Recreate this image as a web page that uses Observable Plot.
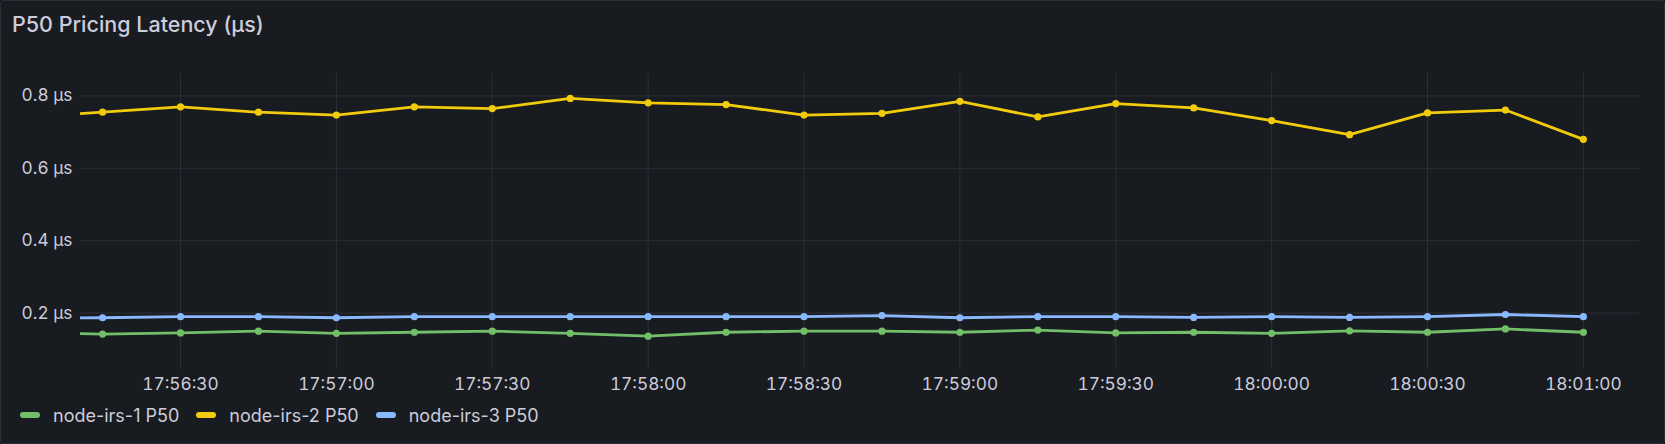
<!DOCTYPE html>
<html>
<head>
<meta charset="utf-8">
<script src="https://cdn.jsdelivr.net/npm/d3@7"></script>
<script src="https://cdn.jsdelivr.net/npm/@observablehq/plot@0.6"></script>
<style>
  html, body { margin: 0; padding: 0; background: #111217; }
  #panel {
    position: relative; width: 1665px; height: 444px; box-sizing: border-box;
    background: #181b1f; border: 1px solid #2c2f36; border-radius: 3px;
    font-family: Inter, "Noto Sans", sans-serif; color: #ccccdc; overflow: hidden;
  }
  #title { height: 47px; line-height: 47px; padding-left: 11px; font-size: 21.5px; font-weight: 500; color: #ccccdc; white-space: nowrap; }
  #chart svg { display: block; }
  #legend { height: 30px; display: flex; align-items: center; padding-left: 19px; font-size: 18px; color: #ccccdc; }
  .item { display: flex; align-items: center; margin-right: 17px; }
  .swatch { width: 20px; height: 6px; border-radius: 3px; margin-right: 13px; }
</style>
</head>
<body>
<div id="panel">
  <div id="title">P50 Pricing Latency (µs)</div>
  <div id="chart"></div>
  <div id="legend"></div>
</div>
<script>
// Data: sample times (every 15 s) and P50 latency values in µs
const times = [
  "17:56:00","17:56:15","17:56:30","17:56:45","17:57:00","17:57:15","17:57:30","17:57:45",
  "17:58:00","17:58:15","17:58:30","17:58:45","17:59:00","17:59:15","17:59:30","17:59:45",
  "18:00:00","18:00:15","18:00:30","18:00:45","18:01:00"
];
const seriesNames = ["node-irs-1 P50", "node-irs-2 P50", "node-irs-3 P50"];
const seriesColors = ["#73bf69", "#f2cc0c", "#8ab8ff"];
const node1 = [0.145,0.142,0.145,0.150,0.144,0.147,0.150,0.144,0.136,0.147,0.150,0.150,0.147,0.153,0.145,0.147,0.144,0.151,0.147,0.156,0.147];
const node2 = [0.741,0.755,0.770,0.755,0.747,0.770,0.765,0.793,0.781,0.776,0.747,0.752,0.785,0.742,0.779,0.767,0.732,0.693,0.753,0.761,0.680];
const node3 = [0.185,0.187,0.190,0.190,0.187,0.190,0.190,0.190,0.190,0.190,0.190,0.193,0.187,0.190,0.190,0.188,0.190,0.188,0.190,0.196,0.190];
const yTicks = [0.2, 0.4, 0.6, 0.8];
const xTickLabels = ["17:56:30","17:57:00","17:57:30","17:58:00","17:58:30","17:59:00","17:59:30","18:00:00","18:00:30","18:01:00"];
const xDomainLabels = ["17:56:10.75", "18:01:10.8"];
const yDomain = [0.044, 0.862];

const toDate = s => {
  const [h, m, sec] = s.split(":").map(Number);
  return new Date(Date.UTC(2024, 0, 1, h, m, 0) + sec * 1000);
};
const valuesBySeries = [node1, node2, node3];
const data = [];
seriesNames.forEach((name, i) => {
  times.forEach((t, j) => data.push({ series: name, time: toDate(t), value: valuesBySeries[i][j] }));
});
const xTicks = xTickLabels.map(toDate);
const fmt = d3.utcFormat("%H:%M:%S");

const chart = Plot.plot({
  width: 1663,
  height: 352,
  marginLeft: 79,
  marginRight: 25,
  marginTop: 25,
  marginBottom: 31,
  style: { background: "transparent", color: "#ccccdc", fontFamily: "Inter, sans-serif", fontSize: "17.3px" },
  x: { type: "utc", domain: xDomainLabels.map(toDate), ticks: xTicks, tickFormat: fmt, tickSize: 0, tickPadding: 8, label: null },
  y: { domain: yDomain, ticks: yTicks, tickFormat: d => `${d} µs`, tickSize: 0, tickPadding: 8, label: null },
  color: { domain: seriesNames, range: seriesColors },
  marks: [
    Plot.gridX(xTicks, { stroke: "#2c2f35", strokeOpacity: 1, strokeWidth: 1 }),
    Plot.gridY(yTicks, { stroke: "#2c2f35", strokeOpacity: 1, strokeWidth: 1 }),
    Plot.lineY(data, { x: "time", y: "value", z: "series", stroke: "series", strokeWidth: 2.8, clip: true }),
    Plot.dot(data, { x: "time", y: "value", fill: "series", r: 3.6, clip: true })
  ]
});
document.getElementById("chart").appendChild(chart);

const legend = document.getElementById("legend");
seriesNames.forEach((name, i) => {
  const item = document.createElement("div");
  item.className = "item";
  const sw = document.createElement("span");
  sw.className = "swatch";
  sw.style.background = seriesColors[i];
  const label = document.createElement("span");
  label.textContent = name;
  item.appendChild(sw);
  item.appendChild(label);
  legend.appendChild(item);
});
</script>
</body>
</html>
